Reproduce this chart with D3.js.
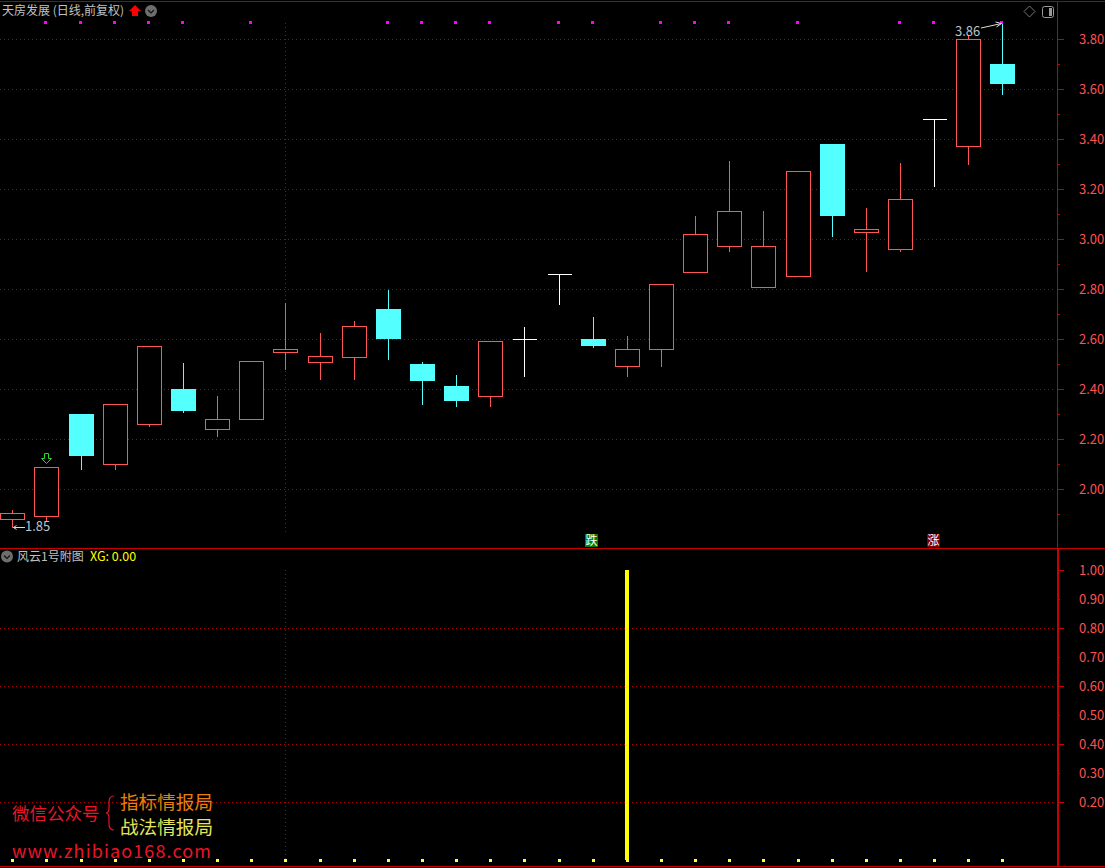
<!DOCTYPE html>
<html>
<head>
<meta charset="utf-8">
<script src="https://cdn.jsdelivr.net/npm/d3@7"></script>
<style>
html, body { margin:0; padding:0; background:#000; overflow:hidden; }
svg { display:block; }
text { font-family:"Noto Sans CJK SC","Noto Sans",sans-serif; }
</style>
</head>
<body>
<svg id="drawing_region"></svg>
<script>
// daily bars
const opens  = [1.88,1.892,2.30,2.10,2.26,2.40,2.24,2.28,2.55,2.51,2.53,2.72,2.50,2.41,2.37,2.60,2.86,2.60,2.49,2.56,2.87,2.97,2.81,2.85,3.38,3.03,2.96,3.48,3.37,3.70];
const highs  = [1.92,2.09,2.30,2.34,2.57,2.51,2.376,2.51,2.748,2.628,2.676,2.80,2.512,2.46,2.59,2.652,2.86,2.692,2.616,2.82,3.096,3.316,3.116,3.27,3.38,3.128,3.308,3.48,3.816,3.864];
const lows   = [1.85,1.872,2.08,2.08,2.252,2.31,2.212,2.28,2.48,2.44,2.44,2.52,2.34,2.332,2.332,2.452,2.74,2.57,2.452,2.492,2.87,2.952,2.81,2.85,3.012,2.872,2.952,3.212,3.30,3.58];
const closes = [1.904,2.09,2.136,2.34,2.572,2.316,2.28,2.512,2.56,2.532,2.652,2.604,2.436,2.356,2.592,2.60,2.86,2.576,2.56,2.82,3.02,3.112,2.972,3.272,3.096,3.04,3.16,3.48,3.80,3.624];

const xgValues = [0,0,0,0,0,0,0,0,0,0,0,0,0,0,0,0,0,0,1,0,0,0,0,0,0,0,0,0,0,0];
const flagDays = [1,2,3,4,5,7,11,12,13,14,16,17,19,20,21,23,26,27,29];
const signals = [{day:17, text:"跌", color:"#008000"}, {day:27, text:"涨", color:"#800000"}];

const mainTicks = [2.0,2.2,2.4,2.6,2.8,3.0,3.2,3.4,3.6,3.8];
const mainMinor = [1.9,2.1,2.3,2.5,2.7,2.9,3.1,3.3,3.5,3.7];
const subTicks = [1.0,0.9,0.8,0.7,0.6,0.5,0.4,0.3,0.2];
const subGrid = [0.8,0.6,0.4,0.2];

const RED = "#ff5555", CYAN = "#54ffff", AXIS = "#c80000", GRID = "#b00000", LABEL = "#ff5050";
const days = d3.range(opens.length);

const svg = d3.select("#drawing_region").attr("width",1105).attr("height",868);

const x = d3.scaleLinear().domain([0,29]).range([12.3,1002.4]);
const y = d3.scaleLinear().domain([2,3.8]).range([489,39]);
const ySub = d3.scaleLinear().domain([0,1]).range([860,570]);
const col = i => Math.round(x(i)) + 0.5;
const row = v => Math.round(y(v)) + 0.5;

// frame
svg.append("rect").attr("x",0).attr("y",1).attr("width",1105).attr("height",1).attr("fill","#333");
const frame = svg.append("g").attr("stroke",AXIS).attr("shape-rendering","crispEdges");
frame.append("line").attr("x1",0).attr("x2",1105).attr("y1",548.5).attr("y2",548.5);
frame.append("line").attr("x1",0).attr("x2",1105).attr("y1",866.5).attr("y2",866.5);
frame.append("line").attr("x1",1057.5).attr("x2",1057.5).attr("y1",2).attr("y2",548);
frame.append("line").attr("x1",1058).attr("x2",1058).attr("y1",548).attr("y2",867).attr("stroke-width",2);

// grid
const grid = svg.append("g").attr("stroke",GRID).attr("stroke-dasharray","1 3").attr("shape-rendering","crispEdges");
grid.selectAll(".gm").data(mainTicks).enter().append("line")
    .attr("x1",0).attr("x2",1053).attr("y1",d => row(d)).attr("y2",d => row(d));
grid.selectAll(".gs").data(subGrid).enter().append("line")
    .attr("x1",0).attr("x2",1053).attr("y1",d => Math.round(ySub(d))+0.5).attr("y2",d => Math.round(ySub(d))+0.5);
grid.append("line").attr("x1",col(8)).attr("x2",col(8)).attr("y1",23).attr("y2",533);
grid.append("line").attr("x1",col(8)).attr("x2",col(8)).attr("y1",ySub(1)).attr("y2",ySub(0));

// axes
function drawAxis(scale, major, size, padding) {
    const a = svg.append("g").attr("transform","translate(1057,0)")
        .call(d3.axisRight(scale).tickValues(major).tickSize(size).tickPadding(padding).tickFormat(padding ? d3.format(".2f") : ""));
    a.select(".domain").remove();
    a.selectAll("line").attr("stroke",AXIS).attr("shape-rendering","crispEdges");
    a.selectAll("text").attr("fill",LABEL).attr("font-size","13px").attr("font-family","'Noto Sans',sans-serif");
}
drawAxis(y, mainTicks, 7, 15);
drawAxis(y, mainMinor, 3, 0);
// odd tenths carry a label with only a short tick
drawAxis(ySub, subTicks.filter(d => Math.round(d*10)%2==0), 7, 15);
drawAxis(ySub, subTicks.filter(d => Math.round(d*10)%2==1), 3, 19);

// candles
const candleColor = i => closes[i] > opens[i] ? RED : closes[i] < opens[i] ? CYAN : "#fff";
const candles = svg.append("g").attr("shape-rendering","crispEdges");
candles.selectAll(".wick").data(days).enter().append("line")
    .attr("x1",col).attr("x2",col)
    .attr("y1",i => row(highs[i])).attr("y2",i => row(lows[i]))
    .attr("stroke",candleColor);
candles.selectAll(".body").data(days.filter(i => opens[i] != closes[i])).enter().append("rect")
    .attr("x",i => col(i)-12).attr("width",24)
    .attr("y",i => row(Math.max(opens[i],closes[i])))
    .attr("height",i => row(Math.min(opens[i],closes[i])) - row(Math.max(opens[i],closes[i])))
    .attr("fill",i => closes[i] < opens[i] ? CYAN : "#000")
    .attr("stroke",candleColor);
// flat days are a plain cross bar
candles.selectAll(".flat").data(days.filter(i => opens[i] == closes[i])).enter().append("line")
    .attr("x1",i => col(i)-12).attr("x2",i => col(i)+12)
    .attr("y1",i => row(closes[i])).attr("y2",i => row(closes[i]))
    .attr("stroke",candleColor);

// flag dots
svg.append("g").selectAll("rect").data(flagDays).enter().append("rect")
    .attr("x",d => Math.round(x(d))-2).attr("y",21).attr("width",3).attr("height",3).attr("fill","#ff00ff");

// signal tags
const tags = svg.append("g").selectAll("g").data(signals).enter().append("g")
    .attr("transform",d => `translate(${Math.floor(x(d.day))},534)`);
tags.append("rect").attr("x",-7).attr("y",0).attr("width",13).attr("height",13).attr("fill",d => d.color);
tags.append("text").attr("x",-0.5).attr("y",11).attr("text-anchor","middle").attr("font-size","12px").attr("fill","#fff").text(d => d.text);

// high / low notes
const note = svg.append("g").attr("fill","none").attr("stroke","#ddd");
note.append("path").attr("d",`M${col(0)+1} ${row(1.85)}H25M${col(0)+4} ${row(1.85)-2}L${col(0)+1} ${row(1.85)}L${col(0)+4} ${row(1.85)+2}`);
note.append("path").attr("d",`M981 28L${col(29)-1} 23.5M${col(29)-7} 22L${col(29)-1} 23.5L${col(29)-6} 27`);
svg.append("text").attr("x",25).attr("y",531).attr("font-size","13px").attr("fill","#b8c4d0").attr("font-family","'Noto Sans',sans-serif").text("1.85");
svg.append("text").attr("x",955).attr("y",36).attr("font-size","13px").attr("fill","#b8c4d0").attr("font-family","'Noto Sans',sans-serif").text("3.86");

// green arrow over bar 1
svg.append("path").attr("transform",`translate(${col(1)},453.5)`)
    .attr("d","M-2 0H2V5H5L0 10L-5 5H-2Z").attr("fill","none").attr("stroke","#22dd22");

// headers
svg.append("text").attr("x",2).attr("y",15).attr("font-size","12px").attr("fill","#c0c0c0").text("天房发展 (日线,前复权)");
svg.append("path").attr("d","M135 5L141 11H138V16H132V11H129Z").attr("fill","#ff0000");
function chevron(cx, cy) {
    svg.append("circle").attr("cx",cx).attr("cy",cy).attr("r",6).attr("fill","#6e6e6e");
    svg.append("path").attr("d",`M${cx-3} ${cy-1}L${cx} ${cy+2}L${cx+3} ${cy-1}`).attr("fill","none").attr("stroke","#111").attr("stroke-width",1.2);
}
chevron(151,11);
chevron(7,556.5);
svg.append("text").attr("x",17).attr("y",561).attr("font-size","12px").attr("fill","#c0c0c0").text("风云1号附图");
svg.append("text").attr("x",90).attr("y",561).attr("font-size","12.5px").attr("fill","#ffff00").text("XG: 0.00");

// window icons
svg.append("path").attr("d","M1029.5 6L1035 11.5L1029.5 17L1024 11.5Z").attr("fill","none").attr("stroke","#777");
svg.append("rect").attr("x",1042.5).attr("y",6.5).attr("width",11).attr("height",11).attr("rx",2).attr("fill","none").attr("stroke","#999");
svg.append("rect").attr("x",1049).attr("y",8).attr("width",3).attr("height",8).attr("fill","#999");

// sub chart
const sub = svg.append("g");
sub.selectAll(".xg").data(days.filter(i => xgValues[i] > 0)).enter().append("rect")
    .attr("x",i => Math.round(x(i))-2).attr("width",4)
    .attr("y",i => ySub(xgValues[i])).attr("height",i => ySub(0)-ySub(xgValues[i]))
    .attr("fill","#ffff00");
sub.selectAll(".dot").data(days).enter().append("rect")
    .attr("x",i => Math.round(x(i))-1).attr("y",ySub(0)-1).attr("width",3).attr("height",3)
    .attr("fill","#ffff40");

// watermark
svg.append("text").attr("x",12).attr("y",820).attr("font-size","17.5px").attr("fill","#e8152a").text("微信公众号");
svg.append("path").attr("d","M114 796Q109 796 109 802V808Q109 813 106 813Q109 813 109 818V824Q109 830 114 830")
    .attr("fill","none").attr("stroke","#e8152a").attr("stroke-width",1.2);
svg.append("text").attr("x",120).attr("y",809).attr("font-size","18.6px").attr("fill","#e8800c").text("指标情报局");
svg.append("text").attr("x",120).attr("y",834).attr("font-size","18.6px").attr("fill","#e6e65a").text("战法情报局");
svg.append("text").attr("x",12).attr("y",858).attr("font-size","18px").attr("fill","#e8152a")
    .attr("font-family","'DejaVu Sans',sans-serif").attr("textLength",199).text("www.zhibiao168.com");
</script>
</body>
</html>
